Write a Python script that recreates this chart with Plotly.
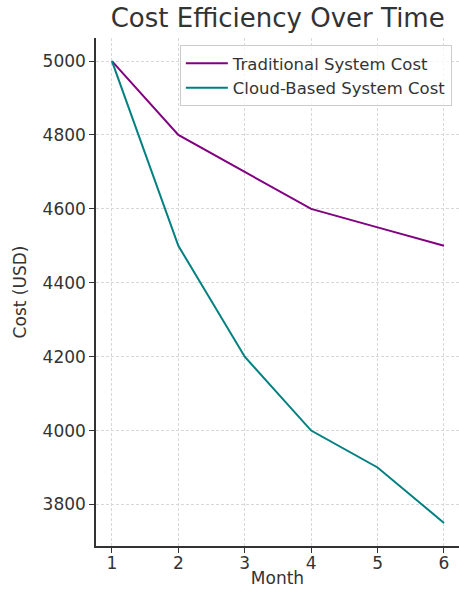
import plotly.graph_objects as go

months = [1, 2, 3, 4, 5, 6]
traditional_cost = [5000, 4800, 4700, 4600, 4550, 4500]
cloud_cost = [5000, 4500, 4200, 4000, 3900, 3750]
y_ticks = [3800, 4000, 4200, 4400, 4600, 4800, 5000]

FONT = "DejaVu Sans"
TXT = "#333333"

fig = go.Figure()
fig.add_trace(go.Scatter(x=months, y=traditional_cost, mode="lines",
                         name="Traditional System Cost",
                         line=dict(color="#800080", width=2)))
fig.add_trace(go.Scatter(x=months, y=cloud_cost, mode="lines",
                         name="Cloud-Based System Cost",
                         line=dict(color="#008080", width=2)))

axis_common = dict(
    showline=True, linecolor="#333333", linewidth=1.5,
    ticks="outside", ticklen=5, tickwidth=1.2, tickcolor="#333333",
    showgrid=True, gridcolor="#d8d8d8", griddash="3px,2px", gridwidth=1,
    zeroline=False, mirror=False,
    tickfont=dict(family=FONT, size=17, color=TXT),
)

fig.update_layout(
    width=459, height=589,
    margin=dict(l=96, r=0, t=38, b=43),
    paper_bgcolor="white", plot_bgcolor="white",
    title=dict(text="Cost Efficiency Over Time", x=0.605, xanchor="center",
               y=0.985, yanchor="top",
               font=dict(family=FONT, size=26, color=TXT)),
    xaxis=dict(range=[0.76, 6.226], tickvals=months, ticktext=[str(m) for m in months],
               ticklabelstandoff=-4,
               title=dict(text="Month", font=dict(family=FONT, size=17, color=TXT), standoff=0),
               **axis_common),
    yaxis=dict(range=[3687.5, 5062.5], tickvals=y_ticks, ticktext=[str(v) for v in y_ticks],
               title=dict(text="Cost (USD)", font=dict(family=FONT, size=17, color=TXT), standoff=12),
               **axis_common),
    legend=dict(x=0.231, y=0.986, xanchor="left", yanchor="top",
                bgcolor="rgba(255,255,255,0.8)", bordercolor="#cccccc", borderwidth=1,
                itemwidth=42,
                font=dict(family=FONT, size=16.5, color=TXT), tracegroupgap=0),
    showlegend=True,
)

fig.write_html("out.html")
